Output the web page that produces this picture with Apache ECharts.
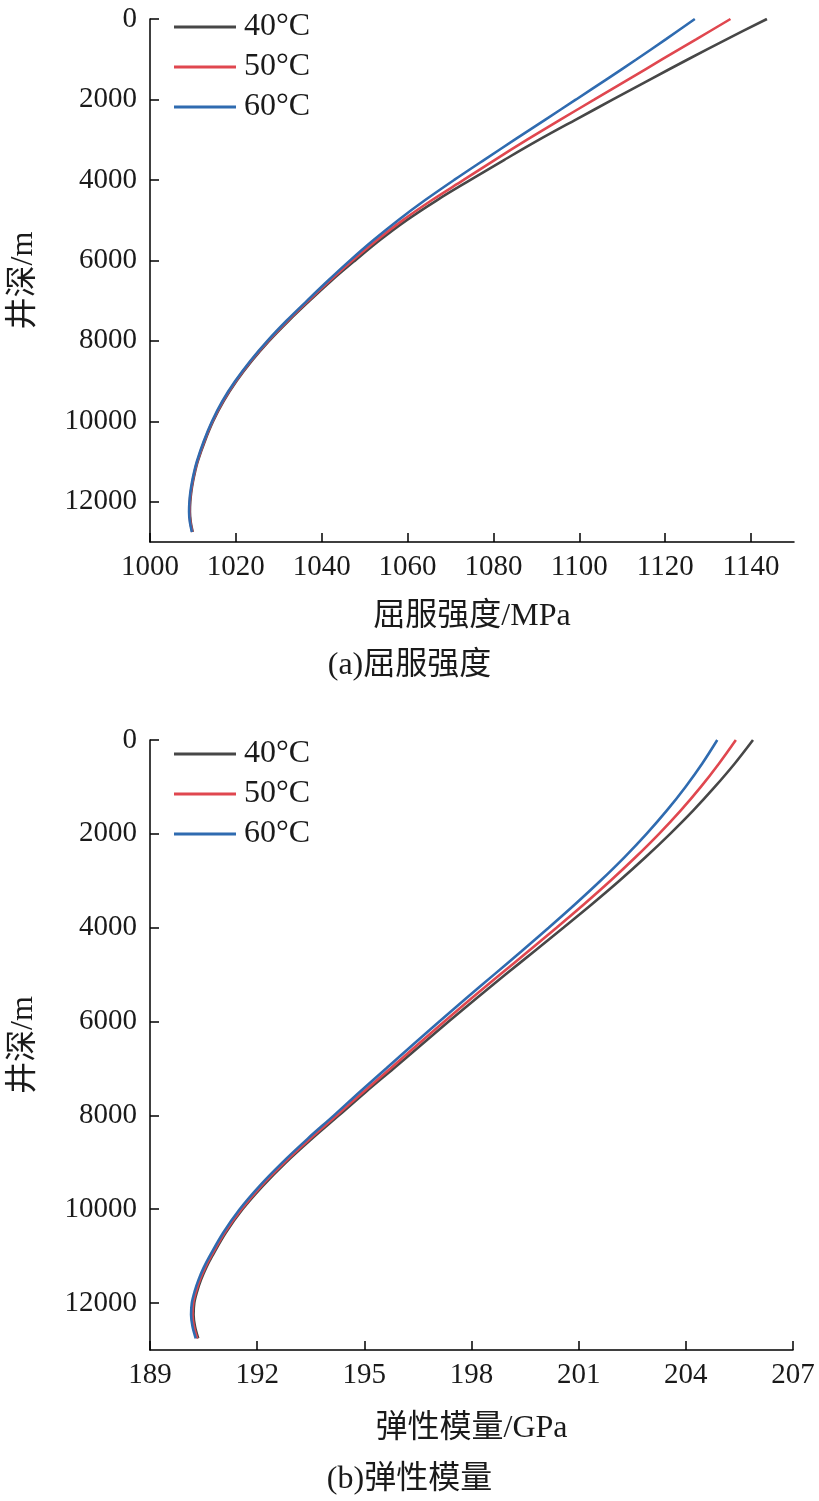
<!DOCTYPE html>
<html>
<head>
<meta charset="utf-8">
<script src="https://cdn.jsdelivr.net/npm/echarts@6/dist/echarts.min.js"></script>
<style>
html,body{margin:0;padding:0;background:#fff;}
#c{width:819px;height:1501px;}
</style>
</head>
<body>
<div id="c"></div>
<script>
// ---- data ----
const depths = [0,500,1000,1500,2000,2500,3000,3500,4000,4500,5000,5500,6000,6500,7000,7500,8000,8500,9000,9500,10000,10500,11000,11250,11500,11750,12000,12250,12500,12750];
const seriesNames = ['40°C','50°C','60°C'];
// yield strength (MPa)
const yield40 = [1143.7,1134.4,1125.35,1116.55,1107.85,1099.2,1090.65,1082.55,1074.65,1066.9,1059.8,1053.5,1047.8,1042.3,1037.2,1032.3,1027.75,1023.7,1020.15,1017.15,1014.7,1012.75,1011.1,1010.5,1010.0,1009.62,1009.38,1009.3,1009.48,1009.95];
const yield50 = [1135.2,1127.3,1119.35,1111.45,1103.55,1095.6,1087.85,1080.35,1073.05,1065.7,1058.9,1052.8,1047.2,1041.9,1036.9,1032.05,1027.55,1023.5,1020.0,1017.0,1014.57,1012.62,1011.0,1010.4,1009.9,1009.52,1009.28,1009.2,1009.38,1009.85];
const yield60 = [1126.9,1120.2,1113.35,1106.35,1099.25,1092.1,1084.95,1077.85,1070.85,1064.1,1057.8,1052.0,1046.6,1041.5,1036.6,1031.8,1027.35,1023.35,1019.85,1016.85,1014.45,1012.5,1010.9,1010.3,1009.8,1009.42,1009.18,1009.1,1009.28,1009.75];
// elastic modulus (GPa)
const mod40 = [205.88,205.37,204.81,204.21,203.56,202.87,202.14,201.37,200.57,199.76,198.95,198.15,197.36,196.59,195.82,195.04,194.29,193.53,192.81,192.16,191.59,191.12,190.74,190.57,190.43,190.32,190.24,190.22,190.26,190.35];
const mod50 = [205.40,204.93,204.42,203.86,203.25,202.59,201.89,201.15,200.38,199.59,198.80,198.01,197.24,196.48,195.73,194.97,194.23,193.48,192.77,192.12,191.56,191.09,190.71,190.54,190.40,190.29,190.21,190.19,190.23,190.32];
const mod60 = [204.88,204.46,203.99,203.47,202.90,202.28,201.61,200.90,200.16,199.40,198.63,197.86,197.10,196.35,195.61,194.87,194.15,193.41,192.71,192.07,191.51,191.05,190.67,190.50,190.36,190.25,190.17,190.15,190.19,190.28];
// tick labels
const yieldTicks = [1000,1020,1040,1060,1080,1100,1120,1140];
const modTicks = [189,192,195,198,201,204,207];
const depthTicks = [0,2000,4000,6000,8000,10000,12000];
const xNames = ['屈服强度/MPa','弹性模量/GPa'];
const yName = '井深/m';
const captions = ['(a)屈服强度','(b)弹性模量'];

// ---- styles ----
const FONT = "'Liberation Serif','Noto Sans CJK SC',serif";
const TXT = '#1a1a1a';
const colors = ['#474747','#e0474f','#2f6bb0'];
const axisLine = {show:true, onZero:false, lineStyle:{color:'#000', width:1.5}};
const axisTick = {show:true, inside:true, length:9, lineStyle:{color:'#000', width:1.5}};
const labelBase = {color:TXT, fontFamily:FONT, fontSize:29, formatter:v=>String(v)};

function xAxis(idx, min, max, interval, ticks, gap){
  return {
    type:'value', gridIndex:idx, min:min, max:max, interval:interval, position:'bottom',
    axisLine:axisLine,
    axisTick:Object.assign({customValues:ticks}, axisTick),
    axisLabel:Object.assign({customValues:ticks, margin:11}, labelBase),
    splitLine:{show:false},
    name:xNames[idx], nameLocation:'middle', nameGap:gap,
    nameTextStyle:{color:TXT, fontFamily:FONT, fontSize:32}
  };
}
function yAxis(idx){
  return {
    type:'value', gridIndex:idx, min:0, max:13000, interval:2000, inverse:true, position:'left',
    axisLine:axisLine,
    axisTick:Object.assign({customValues:depthTicks}, axisTick),
    axisLabel:Object.assign({customValues:depthTicks, margin:13}, labelBase),
    splitLine:{show:false},
    name:yName, nameLocation:'middle', nameGap:110,
    nameTextStyle:{color:TXT, fontFamily:FONT, fontSize:32}
  };
}
function makeSeries(idx, arrays){
  return arrays.map((arr,k)=>({
    name:seriesNames[k], type:'line', xAxisIndex:idx, yAxisIndex:idx,
    data:depths.map((d,i)=>[arr[i], d]),
    showSymbol:false, symbol:'none', smooth:0.35,
    lineStyle:{color:colors[k], width:2.6},
    itemStyle:{color:colors[k]},
    z:2+k
  }));
}
function legend(top){
  return {
    orient:'vertical', left:169, top:top, itemWidth:62, itemHeight:3, itemGap:8,
    icon:'rect',
    data:seriesNames,
    textStyle:{color:TXT, fontFamily:FONT, fontSize:32, lineHeight:28, padding:[0,0,0,3]},
    selectedMode:false
  };
}

const chart = echarts.init(document.getElementById('c'), null, {renderer:'canvas'});
chart.setOption({
  backgroundColor:'#fff',
  animation:false,
  color:colors,
  legend:[legend(6), legend(733)],
  grid:[
    {left:144, right:25, top:19, height:523},
    {left:144, right:26, top:740, height:610}
  ],
  xAxis:[ xAxis(0,1000,1150,10,yieldTicks,59), xAxis(1,189,207,3,modTicks,63) ],
  yAxis:[ yAxis(0), yAxis(1) ],
  series:[].concat(makeSeries(0,[yield40,yield50,yield60]), makeSeries(1,[mod40,mod50,mod60])),
  graphic:[
    {type:'text', left:'center', top:650, style:{text:captions[0], fill:TXT, font:'32px '+FONT}},
    {type:'text', left:'center', top:1464, style:{text:captions[1], fill:TXT, font:'32px '+FONT}}
  ]
});
</script>
</body>
</html>
